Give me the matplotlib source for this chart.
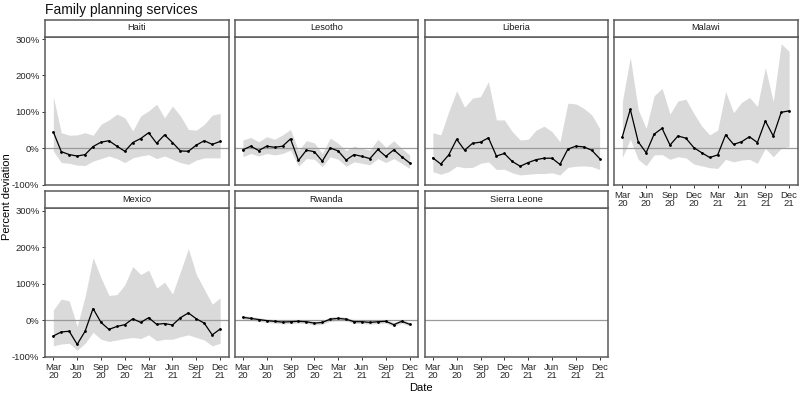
import matplotlib
matplotlib.use("Agg")
import matplotlib.pyplot as plt
import numpy as np

plt.rcParams["font.family"] = ["Liberation Sans", "DejaVu Sans"]

# months Mar 2020 .. Dec 2021
months = np.arange(22)
tick_pos = [0, 3, 6, 9, 12, 15, 18, 21]
tick_labels = ["Mar\n20", "Jun\n20", "Sep\n20", "Dec\n20", "Mar\n21", "Jun\n21", "Sep\n21", "Dec\n21"]
y_ticks = [-100, 0, 100, 200, 300]

haiti_est = [45, -9, -17, -21, -17, 5, 17, 21, 6, -8, 16, 27, 43, 14, 37, 16, -7, -8, 9, 21, 11, 19]
haiti_hi = [142, 43, 36, 37, 43, 36, 66, 78, 94, 84, 48, 89, 103, 121, 84, 116, 89, 52, 50, 66, 91, 96]
haiti_lo = [-7, -39, -41, -46, -47, -35, -28, -21, -28, -39, -26, -21, -17, -28, -21, -30, -39, -44, -32, -26, -26, -26]

lesotho_est = [-4, 6, -6, 6, 3, 6, 26, -33, -5, -9, -35, 1, -7, -32, -17, -22, -28, -3, -22, -4, -23, -40]
lesotho_hi = [23, 30, 18, 32, 25, 37, 52, -6, 21, 15, -14, 28, 14, -6, 6, 0, -5, 25, 3, 21, 0, -18]
lesotho_lo = [-23, -14, -21, -14, -18, -14, -5, -49, -28, -30, -50, -23, -30, -49, -37, -41, -45, -28, -39, -28, -41, -55]

liberia_est = [-26, -43, -18, 25, -5, 14, 17, 29, -21, -14, -36, -49, -39, -31, -27, -27, -44, -2, 6, 4, -5, -28]
liberia_hi = [43, 37, 101, 158, 113, 138, 142, 183, 78, 78, 46, 23, 25, 50, 61, 46, 18, 124, 122, 110, 92, 55]
liberia_lo = [-64, -71, -64, -49, -53, -52, -41, -37, -58, -57, -67, -73, -71, -69, -69, -67, -73, -52, -49, -48, -50, -58]

malawi_est = [32, 107, 18, -12, 39, 55, 9, 34, 28, 2, -12, -25, -18, 37, 11, 18, 32, 16, 75, 34, 99, 103]
malawi_hi = [128, 250, 106, 55, 144, 165, 94, 130, 135, 96, 61, 37, 50, 156, 98, 126, 140, 115, 222, 128, 287, 266]
malawi_lo = [-25, 25, -30, -48, -18, -17, -30, -23, -26, -43, -48, -53, -55, -30, -37, -32, -30, -41, 0, -23, 0, 5]

mexico_est = [-43, -32, -30, -66, -30, 32, -6, -25, -17, -12, 4, -6, 7, -11, -9, -13, 7, 20, 4, -8, -40, -24]
mexico_hi = [28, 58, 53, -17, 65, 171, 116, 68, 70, 97, 147, 125, 137, 88, 104, 72, 133, 196, 125, 85, 44, 61]
mexico_lo = [-70, -65, -63, -82, -63, -33, -52, -58, -54, -50, -47, -50, -40, -56, -52, -52, -45, -40, -47, -54, -70, -63]

rwanda_est = [8, 5, 2, -1, -3, -5, -4, -3, -4, -8, -6, 3, 5, 3, -4, -4, -6, -4, -3, -12, -3, -11]
rwanda_hi = [13, 10, 7, 4, 2, 0, 1, 2, 1, -3, -1, 9, 11, 8, 1, 1, -1, 1, 2, -6, 2, -6]
rwanda_lo = [3, 0, -3, -6, -8, -10, -9, -8, -9, -13, -11, -3, -1, -2, -9, -9, -11, -9, -8, -17, -8, -16]

countries = ["Haiti", "Lesotho", "Liberia", "Malawi", "Mexico", "Rwanda", "Sierra Leone"]
series = {
    "Haiti": (haiti_est, haiti_lo, haiti_hi),
    "Lesotho": (lesotho_est, lesotho_lo, lesotho_hi),
    "Liberia": (liberia_est, liberia_lo, liberia_hi),
    "Malawi": (malawi_est, malawi_lo, malawi_hi),
    "Mexico": (mexico_est, mexico_lo, mexico_hi),
    "Rwanda": (rwanda_est, rwanda_lo, rwanda_hi),
    "Sierra Leone": None,   # no data, empty panel
}

W, H = 800, 394
fig = plt.figure(figsize=(W / 100, H / 100), dpi=100)

LEFTS = [45, 234.5, 424.5, 614]
PW = 183.5
ROWS = [(19.5, 36.5, 185), (191, 208, 357)]   # strip top, strip bottom / plot top, plot bottom
BORDER = "#5a5a5a"


def px(x0, y0, x1, y1):
    return [x0 / W, 1 - y1 / H, (x1 - x0) / W, (y1 - y0) / H]


for i, name in enumerate(countries):
    r, c = divmod(i, 4)
    st, sb, pb = ROWS[r]
    x0 = LEFTS[c]
    ax = fig.add_axes(px(x0, sb, x0 + PW, pb))
    ax.set_xlim(-1.05, 22.05)
    ax.set_ylim(-100.5, 307)
    ax.axhline(0, color="#9a9a9a", lw=0.9, zorder=1)
    d = series[name]
    if d is not None:
        est, lo, hi = d
        ax.fill_between(months, lo, hi, color="#dadada", lw=0, zorder=0)
        ax.plot(months, est, color="black", lw=0.9, marker="o", ms=1.0, zorder=3)
    for s in ax.spines.values():
        s.set_color(BORDER)
        s.set_linewidth(1.1)
    ax.tick_params(length=2.5, width=0.7, color="#333333", labelsize=6.8, pad=1.5, labelcolor="#262626")
    ax.set_yticks(y_ticks)
    if c == 0:
        ax.set_yticklabels([f"{v}%" for v in y_ticks])
    else:
        ax.tick_params(axis="y", left=False, labelleft=False)
    ax.set_xticks(tick_pos)
    if r == 1 or c == 3:
        ax.set_xticklabels(tick_labels, linespacing=0.95)
    else:
        ax.tick_params(axis="x", bottom=False, labelbottom=False)

    # facet strip
    sx = fig.add_axes(px(x0, st, x0 + PW, sb))
    sx.set_xticks([]); sx.set_yticks([])
    sx.set_facecolor("white")
    for s in sx.spines.values():
        s.set_color(BORDER)
        s.set_linewidth(1.1)
    sx.text(0.5, 0.5, name, ha="center", va="center", fontsize=6.6, color="#1a1a1a", transform=sx.transAxes)

fig.text(45 / W, 1 - 10 / H, "Family planning services", fontsize=10, ha="left", va="center", color="#111111")
fig.text(7 / W, 1 - 197 / H, "Percent deviation", fontsize=8, rotation=90, ha="center", va="center")
fig.text(421 / W, 1 - 388 / H, "Date", fontsize=8, ha="center", va="center")

fig.savefig("out.png", dpi=100)
